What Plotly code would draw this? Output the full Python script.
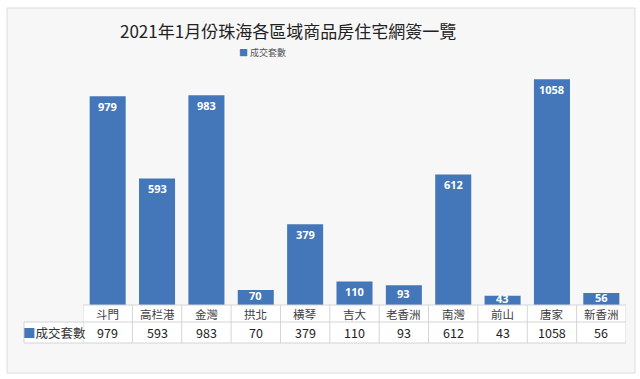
import plotly.graph_objects as go

categories = ["斗門", "高栏港", "金灣", "拱北", "横琴", "吉大", "老香洲", "南灣", "前山", "唐家", "新香洲"]
values = [979, 593, 983, 70, 379, 110, 93, 612, 43, 1058, 56]
series_name = "成交套數"
title_text = "2021年1月份珠海各區域商品房住宅網簽一覽"

W, H = 640, 379
L, R, T, B = 83, 14, 49, 74
PW, PH = W - L - R, H - T - B
BASE = H - B
YMAX = 1200
SCALE = PH / YMAX  # px per unit

def px(x):
    return (x - L) / PW

def py(y):
    return (BASE - y) / PH

FONT = "Noto Sans CJK TC, Noto Sans CJK SC, sans-serif"
BLUE = "#4377b9"
GRID = "#d4d4d4"

fig = go.Figure()
fig.add_trace(go.Bar(
    x=categories, y=values, name=series_name,
    marker=dict(color=BLUE, line=dict(width=0)),
    showlegend=False, hoverinfo="x+y",
))

shapes = []
shapes.append(dict(type="rect", xref="paper", yref="paper",
                   x0=px(7), x1=px(635), y0=py(373), y1=py(8),
                   line=dict(color="#dcdcdc", width=1), fillcolor="#f7f7f7", layer="below"))
shapes.append(dict(type="rect", xref="paper", yref="paper",
                   x0=0, x1=1, y0=py(343), y1=py(305),
                   line=dict(width=0), fillcolor="white", layer="below"))
shapes.append(dict(type="rect", xref="paper", yref="paper",
                   x0=px(24), x1=0, y0=py(343), y1=py(322),
                   line=dict(width=0), fillcolor="white", layer="below"))
for yy, x0 in [(305, 0), (322, px(24)), (343, px(24))]:
    shapes.append(dict(type="line", xref="paper", yref="paper",
                       x0=x0, x1=1, y0=py(yy), y1=py(yy),
                       line=dict(color=GRID, width=1)))
for i in range(len(categories) + 1):
    shapes.append(dict(type="line", xref="x", yref="paper",
                       x0=i - 0.5, x1=i - 0.5, y0=py(343), y1=py(305),
                       line=dict(color=GRID, width=1)))
shapes.append(dict(type="line", xref="paper", yref="paper",
                   x0=px(24), x1=px(24), y0=py(343), y1=py(322),
                   line=dict(color=GRID, width=1)))

annotations = []
def ann(text, x, y, size, color, xref="paper", yref="paper", family=FONT):
    annotations.append(dict(text=text, xref=xref, yref=yref, x=x, y=y,
                            xanchor="center", yanchor="middle", showarrow=False,
                            font=dict(size=size, color=color, family=family)))

ann(title_text, px(288), py(30), 17, "#222222")
ann("<span style='color:%s'>■</span> %s" % (BLUE, series_name), px(262), py(52), 9, "#555555")

# bar value labels inside the top of each bar
for c, v in zip(categories, values):
    off_px = min(10.0, v * SCALE / 2 - 2)
    ann("<b>%d</b>" % v, c, v - off_px / SCALE, 11, "white", xref="x", yref="y",
        family="Open Sans, DejaVu Sans, sans-serif")

for c, v in zip(categories, values):
    ann(c, c, py(313.5), 11.5, "#404040", xref="x")
    ann(str(v), c, py(332.5), 12.5, "#222222", xref="x")
ann("<span style='color:%s'>■</span>%s" % (BLUE, series_name), px(54), py(332.5), 12.5, "#333333")

fig.update_layout(
    width=W, height=H,
    margin=dict(l=L, r=R, t=T, b=B, pad=0),
    paper_bgcolor="white", plot_bgcolor="rgba(0,0,0,0)",
    bargap=0.27,
    showlegend=False,
    xaxis=dict(range=[-0.5, len(categories) - 0.5], showticklabels=False, showgrid=False,
               zeroline=False, showline=False, ticks="", fixedrange=True),
    yaxis=dict(range=[0, YMAX], visible=False, showgrid=False, zeroline=False, fixedrange=True),
    shapes=shapes, annotations=annotations,
)

fig.write_html("out.html", config={"displayModeBar": False},
               post_script="document.body.style.margin='0';document.body.style.overflow='hidden';")
